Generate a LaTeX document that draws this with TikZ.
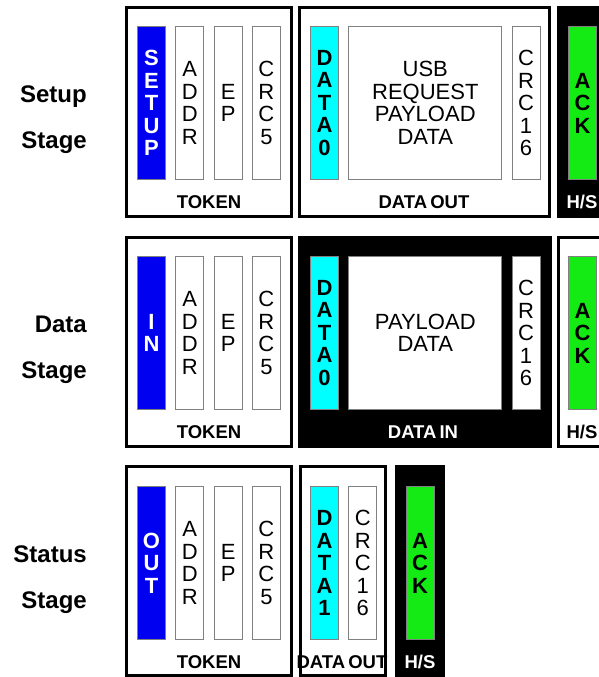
\documentclass[tikz,border=0pt]{standalone}
\usepackage{fontspec}
\setmainfont{Liberation Sans}
\usepackage{tikz}
\usetikzlibrary{positioning}
\usepackage{xcolor}
\definecolor{pidblue}{RGB}{0,0,240}
\definecolor{pidcyan}{RGB}{0,255,255}
\definecolor{hsgreen}{RGB}{20,235,20}

\begin{document}
\begin{tikzpicture}[
      x=1pt, y=-1pt,
      node distance=9.5pt and 9.5pt,
      frame/.style={draw, line width=3pt, minimum width=#1, minimum height=209pt, inner sep=0pt},
      field/.style={draw=gray, line width=0.8pt, fill=white, minimum width=28pt, minimum height=153pt,
        inner sep=0pt, align=center, font=\fontsize{22}{22.5}\selectfont},
      pid/.style={field, fill=pidblue, text=white, font=\fontsize{22}{22.5}\selectfont\bfseries},
      dpid/.style={field, fill=pidcyan, font=\fontsize{22}{22.5}\selectfont\bfseries},
      ack/.style={field, fill=hsgreen, font=\fontsize{22}{22.5}\selectfont\bfseries},
      caption/.style={inner sep=0pt, font=\fontsize{18.5}{18.5}\selectfont\bfseries},
      stage/.style={anchor=east, align=right, inner sep=0pt, font=\fontsize{24}{46}\selectfont\bfseries}
    ]
    \useasboundingbox (0,0) rectangle (598,677);

    % setup stage
    \node[stage] (setup-lbl) at (87,120) {Setup\\Stage};
    \node[frame=165pt] (setup-tok) at (209,112) {};
    \node[frame=250pt] (setup-out) at (424.5,112) {};
    \node[frame=47pt, fill=black] (setup-hs) at (582,112) {};
    \node[pid] (setup-pid) at (151.5,103) {S\\E\\T\\U\\P};
    \node[field, right=of setup-pid] (setup-addr) {A\\D\\D\\R};
    \node[field, right=of setup-addr] (setup-ep) {E\\P};
    \node[field, right=of setup-ep] (setup-crc) {C\\R\\C\\5};
    \node[dpid] (setup-data) at (324.5,103) {D\\A\\T\\A\\0};
    \node[field, minimum width=153pt, right=of setup-data] (setup-payload) {USB\\REQUEST\\PAYLOAD\\DATA};
    \node[field, right=of setup-payload] (setup-crc16) {C\\R\\C\\1\\6};
    \node[ack] (setup-ack) at (582.5,103) {A\\C\\K};
    \node[caption] (setup-tok-cap) at (209,202) {TOKEN};
    \node[caption] (setup-out-cap) at (424,202) {DATA\,OUT};
    \node[caption, text=white] (setup-hs-cap) at (582,202) {H/S};

    % data stage
    \node[stage] (data-lbl) at (87,350) {Data\\Stage};
    \node[frame=165pt] (data-tok) at (209,342) {};
    \node[frame=251pt, fill=black] (data-in) at (425,342) {};
    \node[frame=47pt] (data-hs) at (582,342) {};
    \node[pid] (data-pid) at (151.5,333) {I\\N};
    \node[field, right=of data-pid] (data-addr) {A\\D\\D\\R};
    \node[field, right=of data-addr] (data-ep) {E\\P};
    \node[field, right=of data-ep] (data-crc) {C\\R\\C\\5};
    \node[dpid] (data-data) at (324.5,333) {D\\A\\T\\A\\0};
    \node[field, minimum width=153pt, right=of data-data] (data-payload) {PAYLOAD\\DATA};
    \node[field, right=of data-payload] (data-crc16) {C\\R\\C\\1\\6};
    \node[ack] (data-ack) at (582.5,333) {A\\C\\K};
    \node[caption] (data-tok-cap) at (209,432) {TOKEN};
    \node[caption, text=white] (data-in-cap) at (423,432) {DATA\,IN};
    \node[caption] (data-hs-cap) at (582,432) {H/S};

    % status stage
    \node[stage] (status-lbl) at (87,580) {Status\\Stage};
    \node[frame=165pt] (status-tok) at (209,571) {};
    \node[frame=85pt] (status-out) at (343,571) {};
    \node[frame=47pt, fill=black] (status-hs) at (420,571) {};
    \node[pid] (status-pid) at (151.5,563) {O\\U\\T};
    \node[field, right=of status-pid] (status-addr) {A\\D\\D\\R};
    \node[field, right=of status-addr] (status-ep) {E\\P};
    \node[field, right=of status-ep] (status-crc) {C\\R\\C\\5};
    \node[dpid] (status-data) at (324.5,563) {D\\A\\T\\A\\1};
    \node[field, right=of status-data] (status-crc16) {C\\R\\C\\1\\6};
    \node[ack] (status-ack) at (420,563) {A\\C\\K};
    \node[caption] (status-tok-cap) at (209,662) {TOKEN};
    \node[caption] (status-out-cap) at (342,662) {DATA\,OUT};
    \node[caption, text=white] (status-hs-cap) at (420,662) {H/S};
  \end{tikzpicture}
\end{document}
